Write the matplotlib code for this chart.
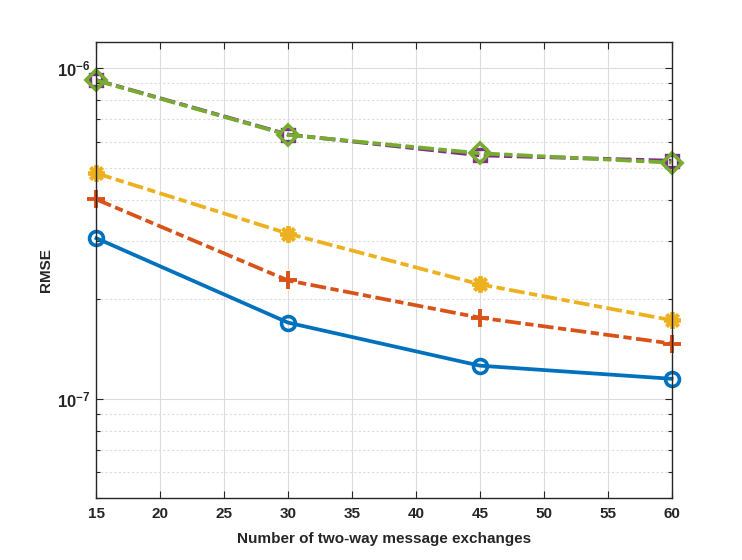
import numpy as np
import matplotlib
matplotlib.use('Agg')
import matplotlib.pyplot as plt
from matplotlib.ticker import LogLocator, NullFormatter, FuncFormatter

plt.rcParams['font.family'] = ['Liberation Sans', 'DejaVu Sans']
plt.rcParams['mathtext.fontset'] = 'custom'
plt.rcParams['mathtext.bf'] = 'Liberation Sans:bold'
plt.rcParams['mathtext.rm'] = 'Liberation Sans:bold'

exchanges = [15, 30, 45, 60]
rmse_blue   = [3.06e-7, 1.70e-7, 1.26e-7, 1.15e-7]
rmse_red    = [4.01e-7, 2.28e-7, 1.76e-7, 1.47e-7]
rmse_yellow = [4.81e-7, 3.16e-7, 2.22e-7, 1.73e-7]
rmse_purple = [9.20e-7, 6.30e-7, 5.45e-7, 5.25e-7]
rmse_green  = [9.18e-7, 6.28e-7, 5.53e-7, 5.18e-7]

TXT = '#262626'
GRID = '#DCDCDC'
DASHDOT = (0, (4.2, 1.2, 2.2, 1.2))

fig = plt.figure(figsize=(7.42, 5.6), dpi=100)
ax = fig.add_axes([0.13, 0.11, 0.775, 0.815])

lw = 2.7
common = dict(lw=lw, clip_on=False, zorder=3)
ax.plot(exchanges, rmse_purple, ls=DASHDOT, color='#7E2F8E', marker='s',
        ms=9, mfc='none', mew=2.4, **common)
ax.plot(exchanges, rmse_green, ls=DASHDOT, color='#77AC30', marker='D',
        ms=10, mfc='none', mew=2.6, **common)
ax.plot(exchanges, rmse_yellow, ls=DASHDOT, color='#EDB120', marker=(8, 2, 0),
        ms=12, mew=2.8, **common)
ax.plot(exchanges, rmse_red, ls=DASHDOT, color='#D95319', marker='+',
        ms=13, mew=2.8, **common)
ax.plot(exchanges, rmse_blue, '-', color='#0072BD', marker='o',
        ms=10, mfc='none', mew=2.6, **common)

ax.set_yscale('log')
ax.set_xlim(15, 60)
ax.set_ylim(5e-8, 1.2e-6)
ax.set_xticks(np.arange(15, 61, 5))
ax.yaxis.set_major_locator(LogLocator(base=10, numticks=10))
ax.yaxis.set_major_formatter(FuncFormatter(
    lambda v, pos: r'$\mathbf{10^{%d}}$' % int(round(np.log10(v)))))
ax.yaxis.set_minor_locator(LogLocator(base=10, subs=np.arange(2, 10), numticks=10))
ax.yaxis.set_minor_formatter(NullFormatter())

ax.grid(True, which='major', color=GRID, lw=0.8, ls='-')
ax.grid(True, which='minor', axis='y', color=GRID, lw=0.8, ls=(0, (2, 2)))
ax.set_axisbelow(True)

ax.tick_params(which='both', direction='in', top=True, right=True,
               colors=TXT, labelcolor=TXT, width=0.8)
ax.tick_params(which='major', length=5, labelsize=11, pad=6)
ax.tick_params(axis='y', which='major', labelsize=12, pad=4)
ax.tick_params(which='minor', length=3)
for lab in ax.get_xticklabels() + ax.get_yticklabels():
    lab.set_fontweight('bold')
for sp in ax.spines.values():
    sp.set_color(TXT)
    sp.set_linewidth(1.0)
    sp.set_zorder(4)

ax.set_xlabel('Number of two-way message exchanges', fontsize=11,
              fontweight='bold', color=TXT, labelpad=8)
ax.set_ylabel('RMSE', fontsize=11, fontweight='bold', color=TXT, labelpad=3)

fig.savefig('out.png', dpi=100)
